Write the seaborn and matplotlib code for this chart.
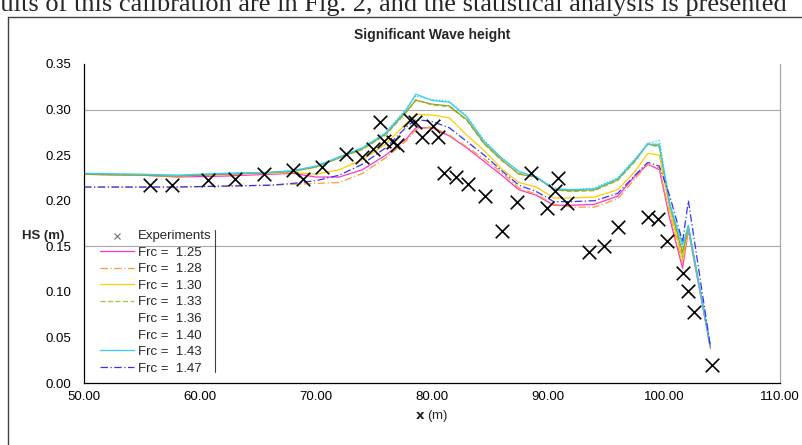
import numpy as np
import pandas as pd
import seaborn as sns
import matplotlib.pyplot as plt
from matplotlib.lines import Line2D

# dados
x_exp = [55.7, 57.6, 60.7, 63.0, 65.5, 68.0, 68.9, 70.5, 72.6, 74.0, 74.9, 75.5, 75.9, 76.6, 77.0,
         78.1, 78.5, 79.1, 80.1, 80.5, 81.0, 82.1, 83.1, 84.6, 86.0, 87.3, 88.5, 89.9, 90.6, 90.9,
         91.6, 93.5, 94.8, 96.0, 98.6, 99.5, 100.3, 101.6, 102.1, 102.6, 104.1]
y_exp = [0.217, 0.217, 0.223, 0.224, 0.229, 0.234, 0.224, 0.237, 0.251, 0.248, 0.257, 0.286, 0.266, 0.264, 0.261,
         0.289, 0.286, 0.270, 0.282, 0.270, 0.230, 0.226, 0.218, 0.205, 0.167, 0.199, 0.230, 0.192, 0.211, 0.225,
         0.198, 0.144, 0.150, 0.171, 0.182, 0.180, 0.156, 0.121, 0.101, 0.078, 0.020]

x_mod = [50, 55, 58, 62, 66, 68, 70, 72, 74, 76, 77.8, 78.6, 80, 81.5, 83, 84.5, 86, 87.5, 89, 90.5,
         92, 94, 96, 97.5, 98.6, 99.6, 100.5, 101.6, 102.1, 104]

frc_125 = [0.229, 0.228, 0.226, 0.227, 0.229, 0.230, 0.226, 0.226, 0.234, 0.250, 0.268, 0.280, 0.280, 0.271, 0.258,
           0.243, 0.228, 0.212, 0.206, 0.195, 0.195, 0.196, 0.205, 0.227, 0.240, 0.234, 0.180, 0.126, 0.168, 0.038]
frc_128 = [0.215, 0.215, 0.215, 0.216, 0.217, 0.218, 0.219, 0.220, 0.230, 0.247, 0.266, 0.278, 0.281, 0.272, 0.259,
           0.246, 0.231, 0.214, 0.207, 0.196, 0.193, 0.193, 0.202, 0.224, 0.240, 0.236, 0.185, 0.130, 0.170, 0.040]
frc_130 = [0.229, 0.228, 0.227, 0.229, 0.230, 0.231, 0.229, 0.234, 0.245, 0.262, 0.285, 0.295, 0.294, 0.291, 0.272,
           0.255, 0.235, 0.220, 0.215, 0.203, 0.203, 0.204, 0.212, 0.232, 0.252, 0.250, 0.190, 0.135, 0.170, 0.040]
frc_133 = [0.229, 0.228, 0.227, 0.229, 0.231, 0.232, 0.237, 0.247, 0.256, 0.272, 0.297, 0.311, 0.305, 0.303, 0.288,
           0.262, 0.244, 0.230, 0.226, 0.212, 0.210, 0.211, 0.222, 0.243, 0.263, 0.258, 0.195, 0.138, 0.172, 0.040]
frc_136 = [0.229, 0.228, 0.227, 0.229, 0.231, 0.232, 0.237, 0.247, 0.257, 0.273, 0.298, 0.310, 0.306, 0.304, 0.289,
           0.263, 0.245, 0.229, 0.226, 0.212, 0.211, 0.212, 0.223, 0.244, 0.262, 0.260, 0.196, 0.143, 0.172, 0.040]
frc_140 = [0.230, 0.229, 0.228, 0.230, 0.231, 0.233, 0.238, 0.248, 0.258, 0.275, 0.301, 0.315, 0.311, 0.309, 0.293,
           0.266, 0.247, 0.232, 0.226, 0.214, 0.212, 0.214, 0.225, 0.246, 0.263, 0.266, 0.198, 0.148, 0.173, 0.041]
frc_143 = [0.230, 0.229, 0.228, 0.230, 0.231, 0.233, 0.238, 0.248, 0.258, 0.274, 0.300, 0.317, 0.310, 0.308, 0.292,
           0.265, 0.247, 0.232, 0.226, 0.213, 0.212, 0.213, 0.224, 0.245, 0.262, 0.262, 0.195, 0.152, 0.172, 0.040]
frc_147 = [0.215, 0.215, 0.215, 0.216, 0.217, 0.219, 0.222, 0.228, 0.240, 0.258, 0.281, 0.289, 0.287, 0.280, 0.265,
           0.250, 0.233, 0.217, 0.210, 0.199, 0.199, 0.200, 0.208, 0.228, 0.242, 0.238, 0.205, 0.155, 0.200, 0.040]

labels = ['Frc =  1.25', 'Frc =  1.28', 'Frc =  1.30', 'Frc =  1.33',
          'Frc =  1.36', 'Frc =  1.40', 'Frc =  1.43', 'Frc =  1.47']
series = [frc_125, frc_128, frc_130, frc_133, frc_136, frc_140, frc_143, frc_147]
cores = ['#FF33CC', '#FF9933', '#FFCC00', '#99CC33', '#99A020', '#33CCCC', '#33CCFF', '#3333FF']
estilos = ['-', (0, (6, 2, 1, 2)), '-', (0, (4, 2)), '-', (0, (1, 1.5)), '-', (0, (6, 2, 1, 2))]

sns.set_style('white')
plt.rcParams['font.family'] = ['Liberation Sans', 'DejaVu Sans']

fig = plt.figure(figsize=(8.03, 4.45), dpi=100)
ax = fig.add_axes([84 / 803, 1 - 383 / 445, 696 / 803, 319 / 445])

# linhas de grade so em 0.15 e 0.30
for g in [0.15, 0.30]:
    ax.axhline(g, color='#A8A8A8', linewidth=0.8, zorder=0)

sns.scatterplot(x=x_exp, y=y_exp, ax=ax, marker='x', s=95, color='black', linewidth=1.2,
                label='Experiments', zorder=5)

for vals, lab, c, ls in zip(series, labels, cores, estilos):
    sns.lineplot(x=x_mod, y=vals, ax=ax, color=c, linestyle=ls, linewidth=0.9, label=lab)

ax.set_xlim(50, 110)
ax.set_ylim(0, 0.35)
ax.set_xticks(np.arange(50, 111, 10))
ax.set_yticks(np.arange(0, 0.351, 0.05))
ax.set_xticklabels([f'{v:.2f}' for v in np.arange(50, 111, 10)])
ax.set_yticklabels([f'{v:.2f}' for v in np.arange(0, 0.351, 0.05)])
ax.tick_params(axis='both', direction='out', length=4, width=0.8, labelsize=9.5, colors='black', pad=2)
ax.tick_params(axis='y', pad=5)

for s in ['left', 'bottom']:
    ax.spines[s].set_color('black')
    ax.spines[s].set_linewidth(0.9)
ax.spines['top'].set_visible(False)
ax.spines['right'].set_color('#A8A8A8')
ax.spines['right'].set_linewidth(0.9)

ax.set_xlabel('')
ax.set_ylabel('')
fig.text(0.5 * (84 + 780) / 803, 1 - 416 / 445, r'$\mathbf{x}$ (m)', ha='center', va='center', fontsize=9.5)
fig.text(22 / 803, 1 - 236 / 445, 'HS (m)', ha='left', va='center', fontsize=9.5, fontweight='bold')
fig.text(0.5 * (84 + 780) / 803, 1 - 35 / 445, 'Significant Wave height', ha='center', va='center',
         fontsize=10, fontweight='bold')

# legenda
handles, labs = ax.get_legend_handles_labels()
leg = ax.legend(handles, labs, loc='upper left', bbox_to_anchor=(0.015, 0.497), frameon=False,
                fontsize=9.5, handlelength=2.6, handletextpad=0.3, labelspacing=0.33,
                borderaxespad=0, markerscale=0.45)
hs = leg.legend_handles
hs[0].set_color('#707070')
hs[0].set_linewidth(0.8)
for h in hs[5:7]:
    h.set_visible(False)
ax.add_line(Line2D([(215 - 84) / 696] * 2, [(383 - 230) / 319, (383 - 372) / 319],
                   transform=ax.transAxes, color='#404040', linewidth=0.8))

# moldura e texto do documento
fig.add_artist(Line2D([8 / 803, 8 / 803], [0, 1 - 17 / 445], color='#404040', linewidth=1.0))
fig.add_artist(Line2D([8 / 803, 1], [1 - 17 / 445] * 2, color='#404040', linewidth=1.0))
fig.text(-10 / 803, 1 - 11 / 445, 'sults of this calibration are in Fig. 2, and the statistical analysis is presented',
         ha='left', va='baseline', fontsize=19, family='Liberation Serif')

fig.savefig('out.png', dpi=100)
